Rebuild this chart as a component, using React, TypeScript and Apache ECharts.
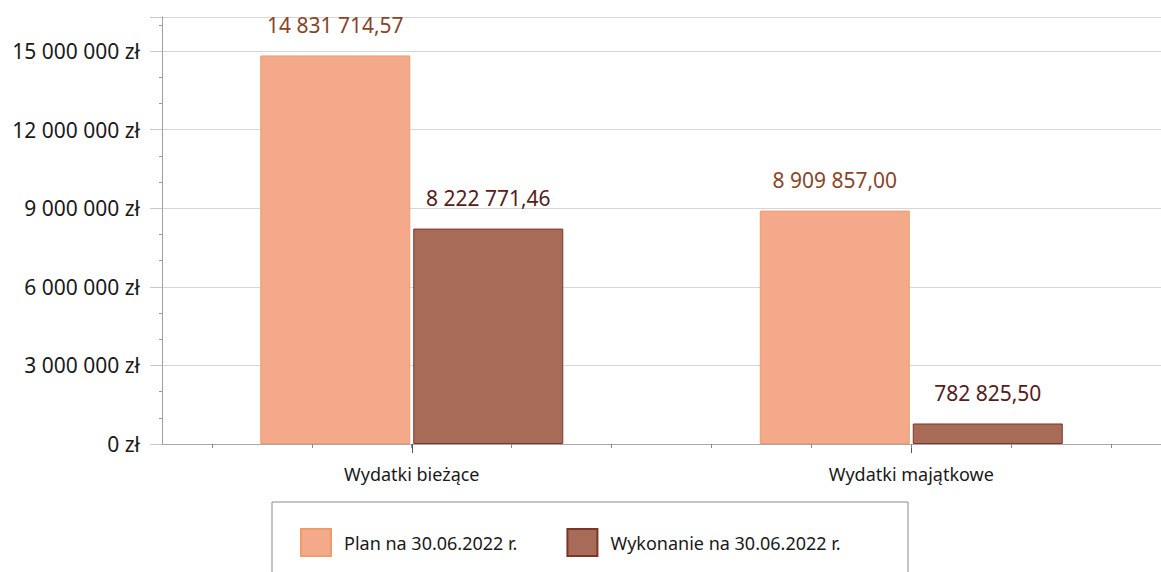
import React, { useEffect, useRef } from "react";
import * as echarts from "echarts";

const categories = ["Wydatki bieżące", "Wydatki majątkowe"];
const planValues = [14831714.57, 8909857.0];
const wykonanieValues = [8222771.46, 782825.5];
const seriesNames = ["Plan na 30.06.2022 r.", "Wykonanie na 30.06.2022 r."];
const yTicks = [0, 3000000, 6000000, 9000000, 12000000, 15000000];
const minorTickSlots = ["", "", "", "", "", "", "", "", "", ""];

const FONT = "'Noto Sans', 'Open Sans', sans-serif";

function group(n: string): string {
  return n.replace(/\B(?=(\d{3})+(?!\d))/g, " ");
}
function fmtValue(v: number): string {
  const [i, d] = v.toFixed(2).split(".");
  return group(i) + "," + d;
}

export default function App() {
  const ref = useRef<HTMLDivElement>(null);
  useEffect(() => {
    if (!ref.current) return;
    const chart = echarts.init(ref.current, null, { renderer: "svg" });
    chart.setOption({
      animation: false,
      backgroundColor: "#ffffff",
      grid: { left: 162, top: 17, width: 1003, height: 427, containLabel: false },
      xAxis: [
        {
          type: "category",
          data: categories,
          position: "bottom",
          axisLine: { show: true, lineStyle: { color: "#a8a8a8", width: 1 } },
          axisTick: { show: true, alignWithLabel: true, length: 9, lineStyle: { color: "#555" } },
          axisLabel: { color: "#1a1a1a", fontFamily: FONT, fontSize: 18, margin: 21 },
        },
        {
          type: "category",
          data: minorTickSlots,
          position: "bottom",
          gridIndex: 0,
          axisLine: { show: false },
          axisTick: { show: true, alignWithLabel: true, length: 4, lineStyle: { color: "#888" } },
          axisLabel: { show: false },
          splitLine: { show: false },
        },
      ],
      yAxis: {
        type: "value",
        min: 0,
        max: 16300000,
        interval: 3000000,
        axisLine: { show: true, lineStyle: { color: "#a0a0a0" } },
        axisTick: { show: true, length: 12, lineStyle: { color: "#c8c8c8" } },
        minorTick: { show: true, splitNumber: 3, length: 3, lineStyle: { color: "#999" } },
        splitLine: { show: true, lineStyle: { color: "#d6d6d6", width: 1 } },
        axisLabel: {
          color: "#1a1a1a",
          fontFamily: FONT,
          fontSize: 21,
          margin: 22,
          formatter: (v: number) => (yTicks.indexOf(v) >= 0 ? group(String(v)) + " zł" : ""),
        },
      },
      legend: {
        left: 295,
        top: 523,
        itemWidth: 30,
        itemHeight: 27,
        itemGap: 49,
        icon: "rect",
        textStyle: { color: "#1a1a1a", fontFamily: FONT, fontSize: 18, padding: [0, 0, 0, 8] },
        data: seriesNames,
      },
      graphic: [
        {
          type: "rect",
          shape: { x: 272, y: 502, width: 636, height: 100 },
          style: { fill: "none", stroke: "#8a8a8a", lineWidth: 1 },
          silent: true,
        },
      ],
      series: [
        {
          name: seriesNames[0],
          type: "bar",
          xAxisIndex: 0,
          data: planValues,
          barWidth: 150,
          barGap: "2%",
          itemStyle: { color: "#F3A98A", borderColor: "#EE9C6A", borderWidth: 1 },
          label: {
            show: true,
            position: "top",
            distance: 20,
            color: "#8A4529",
            fontFamily: FONT,
            fontSize: 21,
            formatter: (p: any) => fmtValue(p.value),
          },
        },
        {
          name: seriesNames[1],
          type: "bar",
          xAxisIndex: 0,
          data: wykonanieValues,
          barWidth: 150,
          barGap: "2%",
          itemStyle: { color: "#A86B58", borderColor: "#7A3628", borderWidth: 1 },
          label: {
            show: true,
            position: "top",
            distance: 20,
            color: "#55201A",
            fontFamily: FONT,
            fontSize: 21,
            formatter: (p: any) => fmtValue(p.value),
          },
        },
      ],
    });
    return () => chart.dispose();
  }, []);
  return (
    <div
      ref={ref}
      style={{ position: "fixed", left: 0, top: 0, width: 1161, height: 572, background: "#fff" }}
    />
  );
}
